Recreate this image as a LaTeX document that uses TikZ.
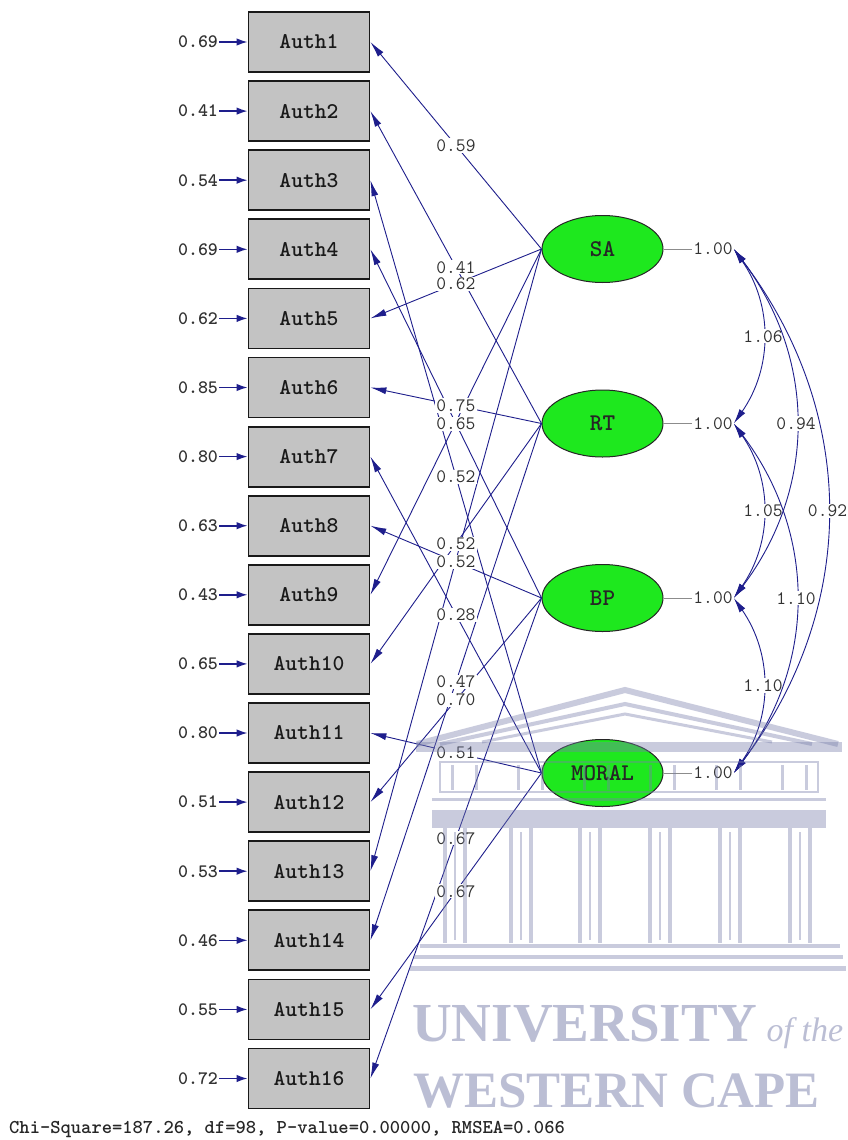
\documentclass[tikz,border=0pt]{standalone}
\usepackage{fontspec}
\newfontfamily\wmfont{Liberation Serif}
\usetikzlibrary{arrows.meta,shapes.geometric}

\definecolor{pathblue}{RGB}{30,30,140}
\definecolor{boxgray}{RGB}{195,195,195}
\definecolor{latgreen}{RGB}{30,232,30}
\definecolor{labgray}{RGB}{50,50,50}
\definecolor{wmcolor}{RGB}{120,126,170}

\begin{document}
\begin{tikzpicture}[x=1pt,y=-1pt,
  obsbox/.style={draw=black!90, line width=1.8pt, fill=boxgray, minimum width=121pt,
    minimum height=60pt, inner sep=0pt, text=black!90,
    font=\ttfamily\bfseries\fontsize{22.5}{22.5}\selectfont},
  latent/.style={ellipse, draw=black!85, line width=1pt, fill=latgreen,
    minimum width=121pt, minimum height=67pt, inner sep=0pt, text=black!85,
    font=\ttfamily\bfseries\fontsize{24}{24}\selectfont},
  errlab/.style={inner sep=1pt, text=labgray, font=\ttfamily\bfseries\fontsize{19}{19}\selectfont},
  loadlab/.style={fill=white, inner sep=1pt, text=labgray,
    font=\ttfamily\fontsize{19}{19}\selectfont},
  varlab/.style={inner sep=1pt, text=labgray, font=\ttfamily\fontsize{19}{19}\selectfont},
  errarr/.style={draw=pathblue, line width=1.6pt, -{Latex[length=11pt,width=7.5pt]}},
  load/.style={draw=pathblue, line width=0.9pt, -{Latex[length=16pt,width=7pt]}},
  cov/.style={draw=pathblue, line width=0.9pt, {Latex[length=15pt,width=7pt]}-{Latex[length=15pt,width=7pt]}},
  varline/.style={draw=black!45, line width=0.8pt},
  wm/.style={draw=wmcolor, opacity=0.4},
  wmfill/.style={fill=wmcolor, opacity=0.4}
]
\useasboundingbox (0,0) rectangle (848,1140);
\fill[white] (0,0) rectangle (848,1140);

% observed indicators with their error variances
\foreach \i/\e in {1/0.69,2/0.41,3/0.54,4/0.69,5/0.62,6/0.85,7/0.80,8/0.63,
                   9/0.43,10/0.65,11/0.80,12/0.51,13/0.53,14/0.46,15/0.55,16/0.72} {
  \node[obsbox] (a\i) at (309,{42+(\i-1)*69.1}) {Auth\i};
  \node[errlab] (e\i) at (198,{42+(\i-1)*69.1}) {\e};
  \draw[errarr] (e\i.east) -- (a\i.west);
}

% latent factors
\node[latent] (SA)    at (602.5,249)   {SA};
\node[latent] (RT)    at (602.5,423.5) {RT};
\node[latent] (BP)    at (602.5,598)   {BP};
\node[latent] (MORAL) at (602.5,773)   {MORAL};

% factor loadings
\foreach \i/\l in {1/SA,2/RT,3/MORAL,4/BP,5/SA,6/RT,7/MORAL,8/BP,
                   9/SA,10/RT,11/MORAL,12/BP,13/SA,14/RT,15/MORAL,16/BP}
  \draw[load] (\l.west) -- (a\i.east);

\foreach \i/\l/\v in {1/SA/0.59,2/RT/0.41,3/MORAL/0.52,4/BP/0.65,5/SA/0.62,
                      6/RT/0.75,7/MORAL/0.28,8/BP/0.52,10/RT/0.52,11/MORAL/0.51,
                      12/BP/0.70,14/RT/0.47,15/MORAL/0.67,16/BP/0.67}
  \path (\l.west) -- (a\i.east) node[midway, loadlab] {\v};

% factor variances
\node[varlab] (v1) at (713,249)   {1.00};
\node[varlab] (v2) at (713,423.5) {1.00};
\node[varlab] (v3) at (713,598)   {1.00};
\node[varlab] (v4) at (713,773)   {1.00};
\draw[varline] (SA.east) -- (v1.west);
\draw[varline] (RT.east) -- (v2.west);
\draw[varline] (BP.east) -- (v3.west);
\draw[varline] (MORAL.east) -- (v4.west);

% factor covariances
\draw[cov] (v1.east) .. controls +(39,56) and +(39,-56) .. (v2.east)
  node[midway, loadlab] {1.06};
\draw[cov] (v2.east) .. controls +(39,56) and +(39,-56) .. (v3.east)
  node[midway, loadlab] {1.05};
\draw[cov] (v3.east) .. controls +(39,56) and +(39,-56) .. (v4.east)
  node[midway, loadlab] {1.10};
\draw[cov] (v1.east) .. controls +(83,110) and +(83,-110) .. (v3.east)
  node[midway, loadlab] {0.94};
\draw[cov] (v2.east) .. controls +(83,110) and +(83,-110) .. (v4.east)
  node[midway, loadlab] {1.10};
\draw[cov] (v1.east) .. controls +(125,165) and +(125,-165) .. (v4.east)
  node[midway, loadlab] {0.92};

% fit statistics
\node[anchor=base west, inner sep=0pt, text=black!85,
  font=\ttfamily\bfseries\fontsize{19.6}{19.6}\selectfont] (fit) at (9,1133)
  {Chi-Square=187.26, df=98, P-value=0.00000, RMSEA=0.066};

% university crest in the background
\begin{scope}
  % roof
  \draw[wm, line width=6pt, line join=miter] (417,744) -- (625,690) -- (838,744);
  \draw[wm, line width=4pt] (440,744) -- (625,704) -- (812,744);
  \draw[wm, line width=3pt] (482,742) -- (625,714) -- (772,742);
  % cornice
  \fill[wmfill] (416,742) rectangle (842,752);
  % frieze
  \draw[wm, line width=2.5pt] (440,762) rectangle (818,792);
  \foreach \x in {452,476,518,542,584,608,650,674,716,740,782,806}
    \draw[wm, line width=3pt] (\x,765) -- (\x,790);
  % architrave
  \draw[wm, line width=3pt] (432,799) -- (826,799);
  \fill[wmfill] (432,810) rectangle (826,828);
  % columns
  \foreach \cx in {455,521,590,660,730,800} {
    \draw[wm, line width=4pt] (\cx-10,828) -- (\cx-10,943);
    \draw[wm, line width=4pt] (\cx+10,828) -- (\cx+10,943);
    \draw[wm, line width=1.5pt] (\cx,832) -- (\cx,940);
  }
  % steps
  \draw[wm, line width=4pt] (420,946) -- (840,946);
  \draw[wm, line width=4pt] (414,957) -- (843,957);
  \draw[wm, line width=5pt] (410,968) -- (846,968);
  % lettering
  \node[anchor=base west, inner sep=0pt, text=wmcolor, text opacity=0.5] (uni) at (412,1041)
    {\wmfont\bfseries\fontsize{55}{55}\selectfont UNIVERSITY\,{\itshape\mdseries\fontsize{34}{34}\selectfont of the}};
  \node[anchor=base west, inner sep=0pt, text=wmcolor, text opacity=0.5] (wc) at (413,1107)
    {\wmfont\bfseries\fontsize{51}{51}\selectfont WESTERN CAPE};
\end{scope}
\end{tikzpicture}
\end{document}
